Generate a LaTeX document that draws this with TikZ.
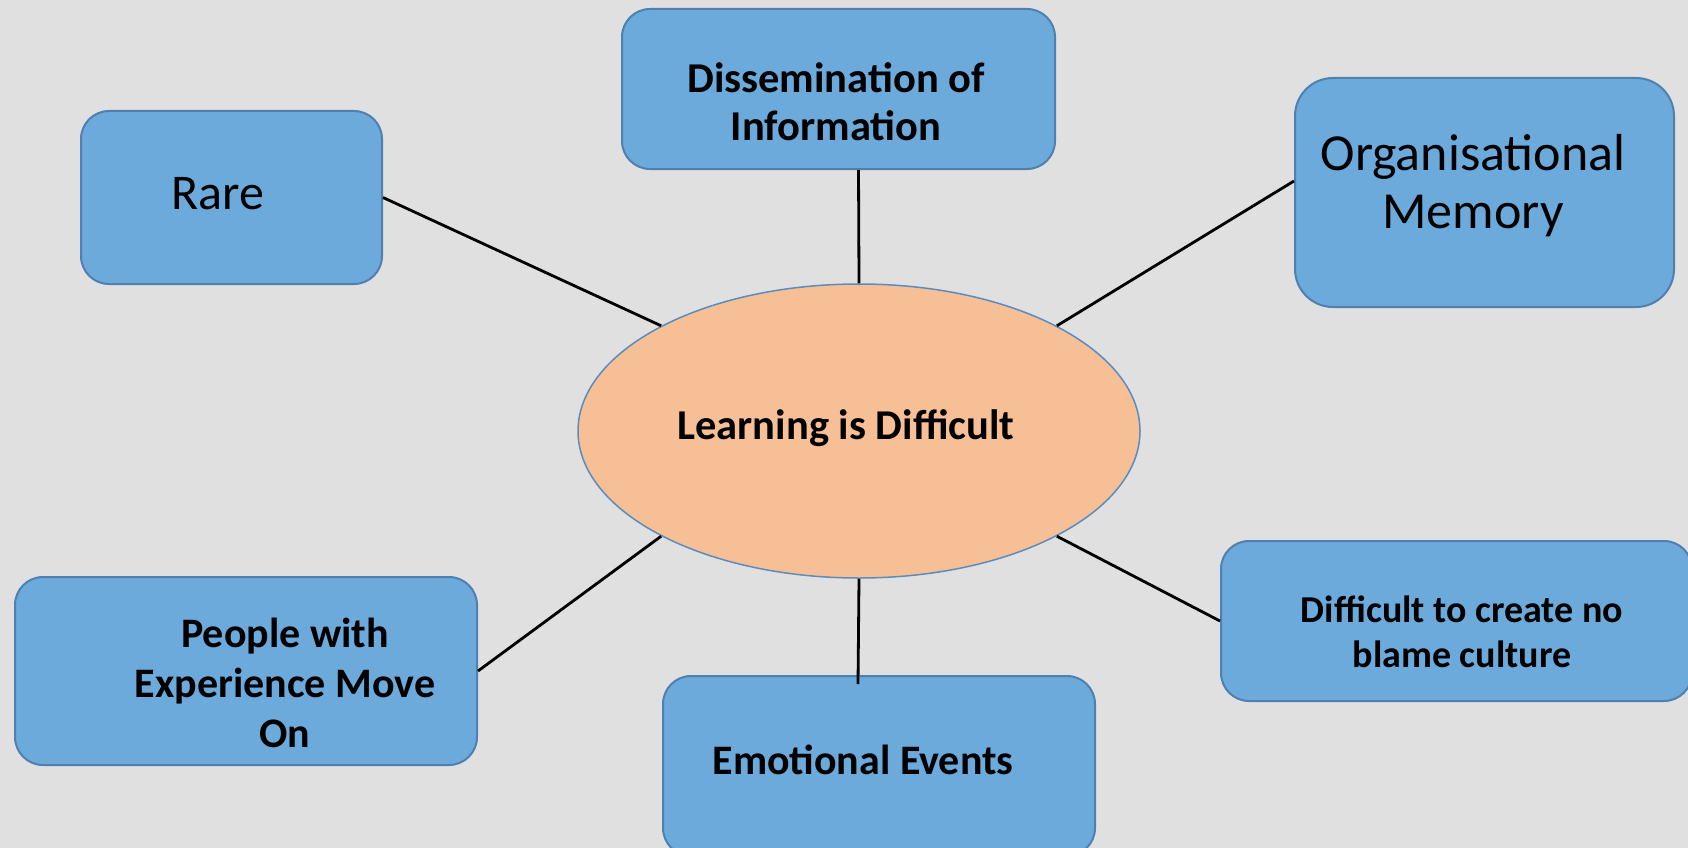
\documentclass[tikz,border=0pt]{standalone}
\usepackage{fontspec}
\setmainfont{Carlito}
\usetikzlibrary{shapes.geometric}
\definecolor{bg}{HTML}{E0E0E0}
\definecolor{boxfill}{HTML}{6BAADB}
\definecolor{boxline}{HTML}{4F80B0}
\definecolor{ellfill}{HTML}{F7BF95}
\definecolor{ellline}{HTML}{5A8CBE}
\begin{document}
\begin{tikzpicture}[x=1pt,y=-1pt,
  box/.style={draw=boxline, line width=2pt, fill=boxfill, rounded corners=28pt, inner sep=0pt},
  bold/.style={align=center, inner sep=0pt, font=\bfseries\fontsize{42}{50}\selectfont},
  plain/.style={align=center, inner sep=0pt, font=\fontsize{50}{58}\selectfont},
  conn/.style={line width=2.8pt, black}]
\fill[bg] (0,0) rectangle (1688,848);
\useasboundingbox (0,0) rectangle (1688,848);

\node[box, minimum width=301pt, minimum height=173pt] (rare) at (231.5,197.5) {};
\node[box, minimum width=433pt, minimum height=160pt] (diss) at (838.5,89) {};
\node[box, rounded corners=38pt, minimum width=379pt, minimum height=229pt] (org) at (1484.5,192.5) {};
\node[box, minimum width=462pt, minimum height=188pt] (people) at (246,671) {};
\node[box, minimum width=432pt, minimum height=180pt] (emo) at (879,766) {};
\node[box, minimum width=471pt, minimum height=160pt] (diff) at (1456.5,621) {};
\node[ellipse, draw=ellline, line width=1.5pt, fill=ellfill, minimum width=562pt, minimum height=294pt, inner sep=0pt] (ell) at (859,431) {};

\node[plain] (rareT) at (218,194) {Rare};
\node[bold, font=\bfseries\fontsize{42.5}{48}\selectfont] (dissT) at (836,102) {Dissemination of\\Information};
\node[plain, font=\fontsize{52}{58}\selectfont] (orgT) at (1473,186) {Organisational\\Memory};
\node[bold, font=\bfseries\fontsize{42.5}{48}\selectfont] (ellT) at (846,428) {Learning is Difficult};
\node[bold] (peopleT) at (285,683) {People with\\Experience Move\\On};
\node[bold] (emoT) at (863,760) {Emotional Events};
\node[bold, font=\bfseries\fontsize{38}{45}\selectfont] (diffT) at (1462,632) {Difficult to create no\\blame culture};

\draw[conn] (rare.east) -- (ell.152);
\draw[conn] ([xshift=20pt]diss.south) -- (ell.north);
\draw[conn] ([yshift=11.5pt]org.west) -- (ell.28);
\draw[conn] (people.east) -- (ell.-152);
\draw[conn] (ell.south) -- ([xshift=-21pt,yshift=-9pt]emo.north);
\draw[conn] (ell.-28) -- (diff.west);
\end{tikzpicture}
\end{document}
